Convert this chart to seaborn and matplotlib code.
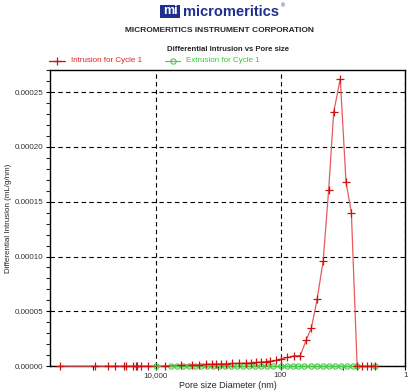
import matplotlib
matplotlib.use("Agg")
import matplotlib.pyplot as plt
import matplotlib.ticker as mticker
from matplotlib.patches import Rectangle
import seaborn as sns
import pandas as pd

# intrusion for cycle 1: pore diameter (nm), differential intrusion (mL/g/nm)
intrusion_diam = [340000, 93000, 59000, 45000, 32000, 30000, 23600, 21000, 20000, 17400, 13300,
                  7180, 3980, 2590, 2050, 1585, 1240, 1096, 912, 759, 593, 470, 363, 302, 251,
                  209, 174, 145, 120, 100, 78, 61, 48, 38.8, 31.9, 25.9, 20.7, 16.9, 14.0,
                  11.0, 8.9, 7.3, 5.9, 4.9, 4.1, 3.5, 3.1]
intrusion_val = [0, 0, 0, 0, 0, 0, 0, 0, 0, 0, 0,
                 0.3e-6, 0.8e-6, 1.2e-6, 1.4e-6, 1.7e-6, 1.9e-6, 2.0e-6, 2.2e-6, 2.3e-6, 2.5e-6,
                 2.7e-6, 2.9e-6, 3.1e-6, 3.4e-6, 3.8e-6, 4.2e-6, 4.6e-6, 5.2e-6, 6.4e-6, 7.9e-6,
                 9.4e-6, 9.6e-6, 2.37e-5, 3.5e-5, 6.08e-5, 9.6e-5, 1.605e-4, 2.32e-4, 2.62e-4,
                 1.68e-4, 1.40e-4, 0, 0, 0, 0, 0]

# extrusion for cycle 1
extrusion_diam = [10000, 5610, 4613, 3698, 2965, 2377, 1905, 1528, 1225, 982, 787, 631, 506,
                  405, 325, 261, 209, 167, 134, 100, 80, 64, 51.5, 41.3, 31.9, 25.6, 20.5,
                  16.4, 13.2, 10.6, 8.5, 7.0, 5.9, 3.0]
extrusion_val = [0] * len(extrusion_diam)

x_ticks = [10000, 100, 1]
x_ticklabels = ["10,000", "100", "1"]
y_ticks = [0, 0.00005, 0.00010, 0.00015, 0.00020, 0.00025]

sns.set_style("ticks")
plt.rcParams["font.family"] = ["Liberation Sans", "DejaVu Sans"]

df_in = pd.DataFrame({"diam": intrusion_diam, "val": intrusion_val})
df_ex = pd.DataFrame({"diam": extrusion_diam, "val": extrusion_val})

fig = plt.figure(figsize=(4.16, 3.92), dpi=100)
ax = fig.add_axes([0.120, 0.066, 0.854, 0.755])

sns.lineplot(data=df_ex, x="diam", y="val", ax=ax, color="#44cc44", lw=0.8,
             marker="o", markersize=3.8, markerfacecolor="none", markeredgecolor="#44cc44",
             markeredgewidth=0.8, clip_on=False, zorder=3)
sns.lineplot(data=df_in, x="diam", y="val", ax=ax, color="#e85a5a", lw=0.9,
             marker="+", markersize=5.5, markeredgecolor="#cc1111", markeredgewidth=0.9,
             clip_on=False, zorder=4)

ax.set_xscale("log")
ax.set_xlim(500000, 1)
ax.set_ylim(0, 0.00027)
ax.set_xticks(x_ticks)
ax.set_xticklabels(x_ticklabels)
ax.xaxis.set_minor_locator(mticker.FixedLocator([100000, 1000, 10]))
ax.xaxis.set_minor_formatter(mticker.NullFormatter())
ax.set_yticks(y_ticks)
ax.yaxis.set_major_formatter(mticker.FormatStrFormatter("%.5f"))
ax.yaxis.set_minor_locator(mticker.MultipleLocator(0.00001))
ax.tick_params(axis="both", which="major", labelsize=5.8, length=3, width=0.8,
               colors="black", labelcolor="#333333", pad=1.5)
ax.tick_params(axis="both", which="minor", length=3, width=0.8)
ax.grid(True, which="major", color="black", linestyle=(0, (4, 3)), linewidth=0.8)
for side in ax.spines.values():
    side.set_linewidth(1.0)
    side.set_color("black")

ax.set_xlabel("Pore size Diameter (nm)", fontsize=6.5, labelpad=1)
ax.set_ylabel("Differential Intrusion (mL/g/nm)", fontsize=5.8, labelpad=2)

# header
fig.add_artist(Rectangle((0.385, 0.954), 0.048, 0.034, transform=fig.transFigure,
                         facecolor="#1f2f8f", edgecolor="none"))
fig.text(0.409, 0.971, "mi", ha="center", va="center", color="white",
         fontsize=9, fontweight="bold")
fig.text(0.44, 0.969, "micromeritics", ha="left", va="center", color="#1f2f8f",
         fontsize=10.5, fontweight="bold")
fig.text(0.676, 0.984, "\u00ae", ha="left", va="center", color="#1f2f8f", fontsize=4)
fig.text(0.527, 0.922, "MICROMERITICS INSTRUMENT CORPORATION", ha="center", va="center",
         fontsize=6.0, fontweight="bold")
fig.text(0.549, 0.874, "Differential Intrusion vs Pore size", ha="center", va="center",
         fontsize=5.6, fontweight="bold")

# legend row
fig.add_artist(plt.Line2D([0.118, 0.137, 0.156], [0.844, 0.844, 0.844],
                          transform=fig.transFigure, color="#cc1111", lw=0.9, marker="+",
                          markersize=5.5, markevery=[1], markeredgewidth=0.9))
fig.text(0.171, 0.846, "Intrusion for Cycle 1", ha="left", va="center",
         color="#dd2222", fontsize=5.8)
fig.add_artist(plt.Line2D([0.397, 0.415, 0.433], [0.844, 0.844, 0.844],
                          transform=fig.transFigure, color="#44cc44", lw=0.8, marker="o",
                          markersize=3.8, markerfacecolor="none", markevery=[1],
                          markeredgewidth=0.8))
fig.text(0.447, 0.846, "Extrusion for Cycle 1", ha="left", va="center",
         color="#33cc33", fontsize=5.8)

fig.savefig("out.png", dpi=100)
